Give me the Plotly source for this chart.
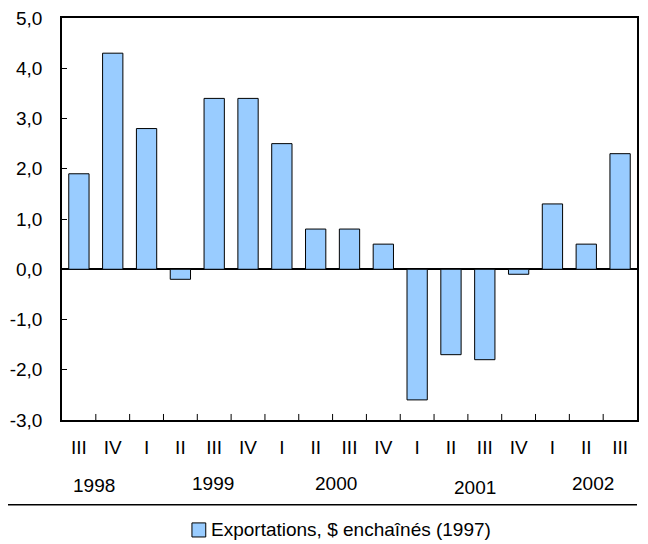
import plotly.graph_objects as go

quarters = ["III", "IV", "I", "II", "III", "IV", "I", "II", "III", "IV",
            "I", "II", "III", "IV", "I", "II", "III"]
values = [1.9, 4.3, 2.8, -0.2, 3.4, 3.4, 2.5, 0.8, 0.8, 0.5,
          -2.6, -1.7, -1.8, -0.1, 1.3, 0.5, 2.3]
years = ["1998", "1999", "2000", "2001", "2002"]
year_pos = [0.45, 3.95, 7.6, 11.7, 15.2]
year_y = [-0.162, -0.157, -0.157, -0.169, -0.157]
y_ticks = [-3, -2, -1, 0, 1, 2, 3, 4, 5]
y_labels = ["-3,0", "-2,0", "-1,0", "0,0", "1,0", "2,0", "3,0", "4,0", "5,0"]
series_name = "Exportations, $ enchaînés (1997)"

xs = list(range(len(values)))

fig = go.Figure(go.Bar(
    x=xs, y=values,
    name=series_name,
    marker=dict(color="#99CCFF", line=dict(color="black", width=1)),
    width=0.6,
    showlegend=False,
))

fig.update_xaxes(
    tickmode="array", tickvals=xs, ticktext=quarters,
    range=[-0.5, len(values) - 0.5],
    showline=True, linecolor="black", linewidth=1.5, mirror=True,
    ticks="", showgrid=False, zeroline=False,
    ticklabelstandoff=9, automargin=False,
)
fig.update_yaxes(
    range=[-3, 5], tickvals=y_ticks, ticktext=y_labels,
    showline=True, linecolor="black", linewidth=1.5, mirror=True,
    ticks="inside", ticklen=5, tickcolor="black",
    showgrid=False, zeroline=True, zerolinecolor="black", zerolinewidth=1.5,
    ticklabelstandoff=14, automargin=False, ticklabeloverflow="allow",
)

# ticks between the quarters along the bottom axis
for i in range(1, len(values)):
    fig.add_shape(type="line", xref="x", yref="y", x0=i - 0.5, x1=i - 0.5,
                  y0=-3, y1=-2.88, line=dict(color="black", width=1))

for yr, p, yy in zip(years, year_pos, year_y):
    fig.add_annotation(text=yr, x=p, y=yy, xref="x", yref="paper",
                       showarrow=False, yanchor="middle")

# separator line above the legend
fig.add_shape(type="line", xref="paper", yref="paper", x0=-0.108, x1=1.0,
              y0=-0.211, y1=-0.211, line=dict(color="black", width=1.5))

# legend key and label
fig.add_shape(type="rect", xref="paper", yref="paper",
              x0=0.226, x1=0.250, y0=-0.291, y1=-0.256,
              fillcolor="#99CCFF", line=dict(color="black", width=1))
fig.add_annotation(text=series_name, x=0.256, y=-0.273, xref="paper", yref="paper",
                   showarrow=False, xanchor="left", yanchor="middle")

# page body has an 8px margin, so the figure is a bit smaller than the window
fig.update_layout(
    width=640, height=536,
    margin=dict(l=54, r=11, t=10, b=124),
    plot_bgcolor="white", paper_bgcolor="white",
    font=dict(family="Liberation Sans, Arial", size=19, color="black"),
    showlegend=False,
)

fig.write_html("out.html")
